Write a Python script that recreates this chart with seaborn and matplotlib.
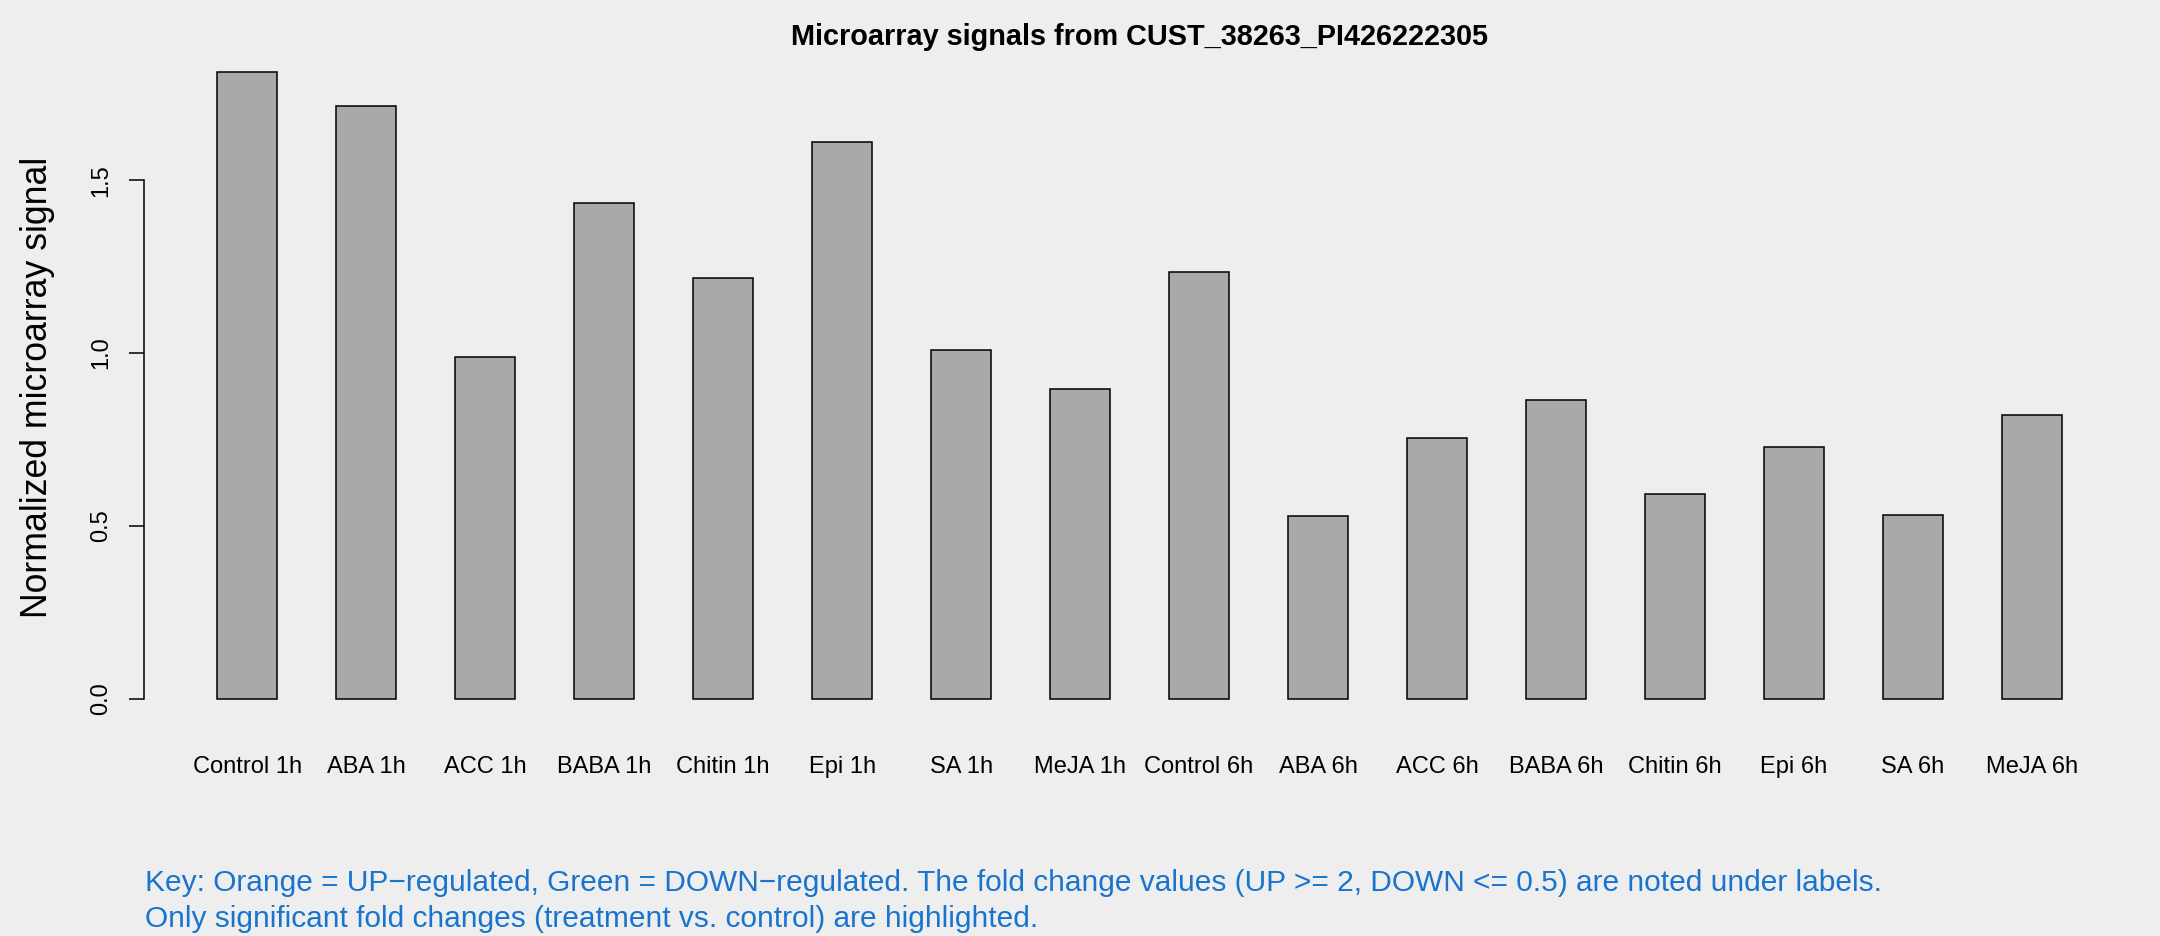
import matplotlib; matplotlib.use("Agg")
import matplotlib.pyplot as plt
import seaborn as sns
import pandas as pd

# values
labels = ["Control 1h", "ABA 1h", "ACC 1h", "BABA 1h", "Chitin 1h", "Epi 1h", "SA 1h", "MeJA 1h",
          "Control 6h", "ABA 6h", "ACC 6h", "BABA 6h", "Chitin 6h", "Epi 6h", "SA 6h", "MeJA 6h"]
signal = [1.813, 1.714, 0.989, 1.433, 1.216, 1.610, 1.009, 0.895,
          1.233, 0.530, 0.753, 0.865, 0.592, 0.729, 0.531, 0.821]
yticks = [0.0, 0.5, 1.0, 1.5]

title = "Microarray signals from CUST_38263_PI426222305"
ylabel = "Normalized microarray signal"
note1 = "Key: Orange = UP\u2212regulated, Green = DOWN\u2212regulated. The fold change values (UP >= 2, DOWN <= 0.5) are noted under labels."
note2 = "Only significant fold changes (treatment vs. control) are highlighted."

BG = "#EEEEEE"
BLUE = "#1874CD"

sns.set_style("white")
plt.rcParams["font.family"] = ["Liberation Sans", "DejaVu Sans"]
plt.rcParams.update({"figure.facecolor": BG, "axes.facecolor": BG,
                     "text.color": "black", "xtick.color": "black",
                     "ytick.color": "black", "axes.labelcolor": "black"})

df = pd.DataFrame({"label": labels, "signal": signal})

fig = plt.figure(figsize=(21.6, 9.36), dpi=100)
ax = fig.add_axes([0.0667, 0.2265, 0.9218, 0.7235])

sns.barplot(data=df, x="label", y="signal", color="#A9A9A9", saturation=1,
            edgecolor="black", linewidth=1.1, width=0.5, ax=ax)

top = max(signal)
ax.set_ylim(-0.04 * top, 1.04 * top)
ax.set_xlim(-0.866, len(labels) - 1 + 0.866)

for s in ["top", "right", "bottom"]:
    ax.spines[s].set_visible(False)
ax.spines["left"].set_bounds(yticks[0], yticks[-1])
ax.spines["left"].set_color("black")
ax.spines["left"].set_linewidth(1.1)

ax.set_yticks(yticks)
ax.set_yticklabels([f"{t:.1f}" for t in yticks], rotation=90, va="center", fontsize=17)
ax.tick_params(axis="y", length=11, width=1.1, color="black", pad=12, left=True)
ax.tick_params(axis="x", length=0, pad=23, labelsize=17)
ax.set_xlabel(""); ax.set_ylabel("")

fig.text(0.5275, 1 - 37 / 936, title, ha="center", va="center", fontsize=20.8, fontweight="bold")
fig.text(38 / 2160, 1 - 387 / 936, ylabel, rotation=90, ha="center", va="center", fontsize=25.7)
fig.text(145 / 2160, 1 - 883 / 936, note1, ha="left", va="center", fontsize=21.5, color=BLUE)
fig.text(145 / 2160, 1 - 919 / 936, note2, ha="left", va="center", fontsize=21.5, color=BLUE)

fig.savefig("out.png", dpi=100, facecolor=BG)
